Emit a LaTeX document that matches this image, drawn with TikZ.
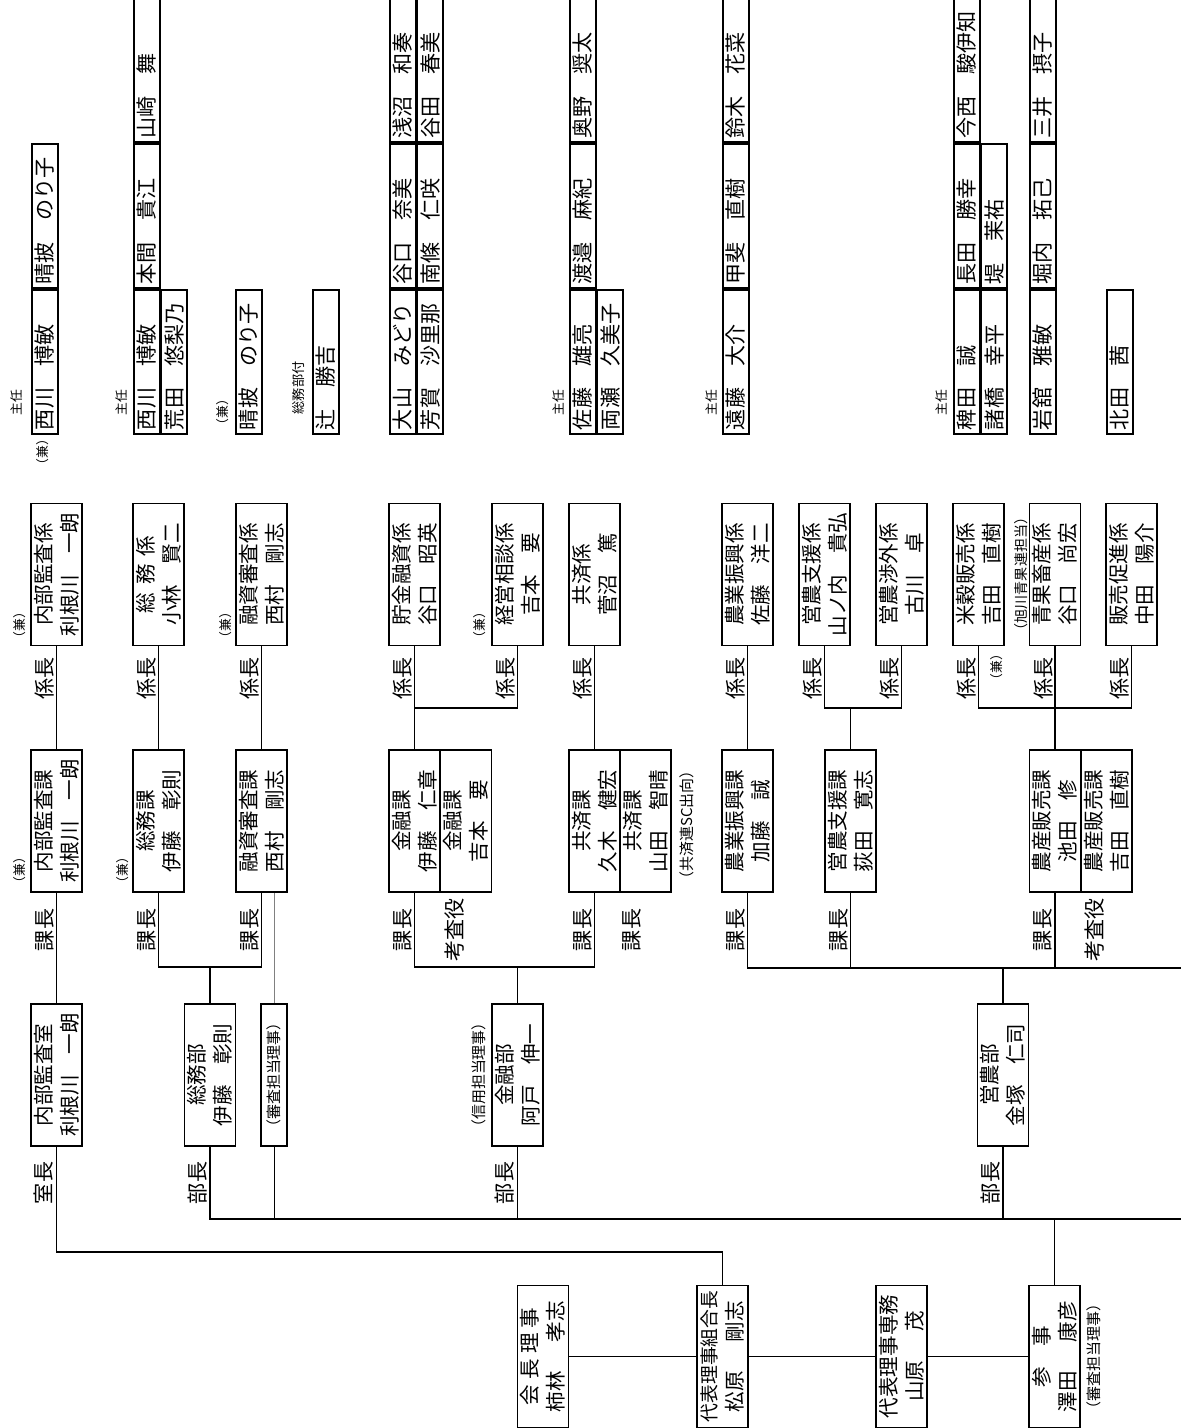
\documentclass[tikz,border=0pt]{standalone}
\usepackage{fontspec}
\setmainfont{Noto Sans CJK JP}
\usetikzlibrary{positioning}

\begin{document}
\begin{tikzpicture}[
  x=0.02cm, y=-0.02cm, rotate=90, transform shape,
  ln/.style={line width=1.1pt},
  thinln/.style={line width=0.4pt},
  box/.style={draw, line width=1.1pt, minimum width=2.84cm, minimum height=1.02cm,
              inner sep=0pt, align=center, font=\fontsize{11.7}{14.8}\selectfont},
  nm/.style={draw, line width=1.1pt, minimum height=0.512cm, text width=2.72cm,
             inner xsep=0.08cm, inner ysep=0pt, align=left, anchor=north west,
             font=\fontsize{12}{14}\selectfont},
  yaku/.style={font=\fontsize{12}{14}\selectfont, inner sep=0pt},
  sm/.style={font=\fontsize{7.3}{8}\selectfont, inner sep=0pt},
  nt/.style={font=\fontsize{8.5}{10}\selectfont, inner sep=0pt}
]
\useasboundingbox (0,0) rectangle (1428,1181);
% ---------------- leaders ----------------
\node[box] (kaicho) at (71.5,543) {会\hspace{.25em}長\hspace{.25em}理\hspace{.25em}事\\柿林\hspace{1.4em}孝志};
\node[box] (kumiaicho) at (71.5,722.5) {{\fontsize{10.7}{14.8}\selectfont 代表理事組合長}\\松原\hspace{1.4em}剛志};
\node[box] (senmu) at (71.5,901.5) {代表理事専務\\山原\hspace{1.4em}茂};
\node[box] (sanji) at (71.5,1054.5) {参\hspace{1em}事\\澤田\hspace{1.4em}康彦};
\node[nt] (sanjiNote) at (71.5,1094) {（審査担当理事）};
% ---------------- bu ----------------
\node[box] (shitsu) at (353,56.5) {内部監査室\\利根川　一朗};
\node[box] (somubu) at (353,210) {総務部\\伊藤　彰則};
\node[box, minimum height=0.52cm, font=\fontsize{8.5}{10}\selectfont] (shinsa) at (353,274) {（審査担当理事）};
\node[box] (kinyubu) at (353,517.5) {金融部\\阿戸　伸一};
\node[box] (einobu) at (353,1003) {営農部\\金塚　仁司};
\node[nt] (shinyoNote) at (353,479) {（信用担当理事）};
% ---------------- ka ----------------
\node[box] (kansaka) at (607,56.5) {内部監査課\\利根川　一朗};
\node[box] (somuka) at (607,158.5) {総務課\\伊藤　彰則};
\node[box] (yushika) at (607,261.5) {融資審査課\\西村　剛志};
\node[box] (kinyuka) at (607,414.5) {金融課\\伊藤　仁章};
\node[box] (kinyuka2) at (607,466) {金融課\\吉本　要};
\node[box] (kyosaika) at (607,594.5) {共済課\\久木　健宏};
\node[box] (kyosaika2) at (607,645.5) {共済課\\山田　智晴};
\node[box] (shinkoka) at (607,747.5) {農業振興課\\加藤　誠};
\node[box] (shienka) at (607,850.5) {営農支援課\\荻田　寛志};
\node[box] (hanbaika) at (607,1055) {農産販売課\\池田　修};
\node[box] (hanbaika2) at (607,1106.5) {農産販売課\\吉田　直樹};
\node[nt] (kyosaiNote) at (603,687) {（共済連SC出向）};
% ---------------- kakari ----------------
\node[box] (kansagakari) at (853.5,56.5) {内部監査係\\利根川　一朗};
\node[box] (somugakari) at (853.5,158.5) {総\hspace{.4em}務\hspace{.4em}係\\小林　賢二};
\node[box] (yushigakari) at (853.5,261.5) {融資審査係\\西村　剛志};
\node[box] (chokingakari) at (853.5,414.5) {貯金融資係\\谷口　昭英};
\node[box] (keieigakari) at (853.5,517.5) {経営相談係\\吉本　要};
\node[box] (kyosaigakari) at (853.5,594.5) {共済係\\菅沼　篤};
\node[box] (shinkogakari) at (853.5,747.5) {農業振興係\\佐藤　洋二};
\node[box] (shiengakari) at (853.5,824.5) {営農支援係\\山ノ内　貴弘};
\node[box] (shogaigakari) at (853.5,901.5) {営農渉外係\\古川　卓};
\node[box] (beikokugakari) at (853.5,978.5) {米穀販売係\\吉田　直樹};
\node[box] (seikagakari) at (853.5,1055) {青果畜産係\\谷口　尚宏};
\node[box] (sokushingakari) at (853.5,1131.5) {販売促進係\\中田　陽介};
\node[nt, font=\fontsize{8}{9}\selectfont] (seikaNote) at (854,1021) {（旭川青果連担当）};
% ---------------- staff ----------------
\node[nm] (a1) at (993,31) {西川　博敏};
\node[nm, right=0pt of a1] (a2) {晴披　のり子};
\node[nm] (b1) at (993,133) {西川　博敏};
\node[nm, right=0pt of b1] (b2) {本間　貴江};
\node[nm, right=0pt of b2] (b3) {山崎　舞};
\node[nm, below=0pt of b1] (b4) {荒田　悠梨乃};
\node[nm] (c1) at (993,235) {晴披　のり子};
\node[nm] (d1) at (993,312) {辻　勝吉};
\node[nm] (e1) at (993,389) {大山　みどり};
\node[nm, right=0pt of e1] (e2) {谷口　奈美};
\node[nm, right=0pt of e2] (e3) {浅沼　和奏};
\node[nm, below=0pt of e1] (e4) {芳賀　沙里那};
\node[nm, below=0pt of e2] (e5) {南條　仁咲};
\node[nm, below=0pt of e3] (e6) {谷田　春美};
\node[nm] (f1) at (993,569) {佐藤　雄亮};
\node[nm, right=0pt of f1] (f2) {渡邉　麻紀};
\node[nm, right=0pt of f2] (f3) {奥野　奨太};
\node[nm, below=0pt of f1] (f4) {両瀬　久美子};
\node[nm] (g1) at (993,722) {遠藤　大介};
\node[nm, right=0pt of g1] (g2) {甲斐　直樹};
\node[nm, right=0pt of g2] (g3) {鈴木　花菜};
\node[nm] (h1) at (993,953) {稗田　誠};
\node[nm, right=0pt of h1] (h2) {長田　勝幸};
\node[nm, right=0pt of h2] (h3) {今西　駿伊知};
\node[nm, below=0pt of h1] (h4) {諸橋　幸平};
\node[nm, below=0pt of h2] (h5) {堤　茉祐};
\node[nm] (i1) at (993,1029) {岩舘　雅敏};
\node[nm, right=0pt of i1] (i2) {堀内　拓己};
\node[nm, right=0pt of i2] (i3) {三井　摂子};
\node[nm] (j1) at (993,1106) {北田　茜};
% ---------------- small labels ----------------
\node[sm] (sh1) at (1025,17) {主任};
\node[sm] (sh2) at (1025,122) {主任};
\node[sm] (sh3) at (1025,559) {主任};
\node[sm] (sh4) at (1025,712) {主任};
\node[sm] (sh5) at (1025,942) {主任};
\node[sm, font=\fontsize{7.5}{8}\selectfont] (fuzoku) at (1040,298) {総務部付};
\node[sm] (k1) at (976,43) {（兼）};
\node[sm] (k2) at (1016,223) {（兼）};
\node[sm] (k3) at (558,20) {（兼）};
\node[sm] (k4) at (558,123) {（兼）};
\node[sm] (k5) at (803,20) {（兼）};
\node[sm] (k6) at (803,226) {（兼）};
\node[sm] (k7) at (803,480) {（兼）};
\node[sm] (k8) at (761,997) {（兼）};
% ---------------- role labels ----------------
\node[yaku] (r1) at (245,44) {室長};
\node[yaku] (r2) at (245,198) {部長};
\node[yaku] (r3) at (245,505) {部長};
\node[yaku] (r4) at (245,991) {部長};
\node[yaku] (r5) at (498,45) {課長};
\node[yaku] (r6) at (498,147) {課長};
\node[yaku] (r7) at (498,250) {課長};
\node[yaku] (r8) at (498,403) {課長};
\node[yaku] (r9) at (498,455) {考査役};
\node[yaku] (r10) at (498,583) {課長};
\node[yaku] (r11) at (498,632) {課長};
\node[yaku] (r12) at (498,736) {課長};
\node[yaku] (r13) at (498,839) {課長};
\node[yaku] (r14) at (498,1043) {課長};
\node[yaku] (r15) at (498,1095) {考査役};
\node[yaku] (r16) at (749.5,45) {係長};
\node[yaku] (r17) at (749.5,147) {係長};
\node[yaku] (r18) at (749.5,250) {係長};
\node[yaku] (r19) at (749.5,403) {係長};
\node[yaku] (r20) at (749.5,506) {係長};
\node[yaku] (r21) at (749.5,583) {係長};
\node[yaku] (r22) at (749.5,736) {係長};
\node[yaku] (r23) at (749.5,813) {係長};
\node[yaku] (r24) at (749.5,890) {係長};
\node[yaku] (r25) at (749.5,967) {係長};
\node[yaku] (r26) at (749.5,1044) {係長};
\node[yaku] (r27) at (749.5,1120) {係長};
% ---------------- lines ----------------
\coordinate (edgeB) at (209,1181);
\coordinate (edgeA) at (460,1181);
\draw[ln] (kaicho.south) -- (kumiaicho.north);
\draw[ln] (kumiaicho.south) -- (senmu.north);
\draw[ln] (senmu.south) -- (sanji.north);
\draw[ln] (kumiaicho.east) -- ++(33,0) |- (shitsu.west);
\draw[thinln] (shinsa.west) -- (shinsa.west -| edgeB);
\draw[thinln, gray] (shinsa.east) -- (shinsa.east -| yushika.west);
\draw[ln] (sanji.east) -| (edgeB);
\draw[ln] (somubu.west) -| (edgeB);
\draw[ln] (kinyubu.west) -| (edgeB);
\draw[ln] (einobu.west) -| (edgeB);
\draw[ln] (shitsu.east) -- (kansaka.west);
\draw[ln] (somubu.east) -- ++(36,0) |- (somuka.west);
\draw[ln] (somubu.east) -- ++(36,0) |- (yushika.west);
\draw[ln] (kinyubu.east) -- ++(36,0) |- (kinyuka.west);
\draw[ln] (kinyubu.east) -- ++(36,0) |- (kyosaika.west);
\draw[ln] (einobu.east) -| (edgeA);
\draw[ln] (shinkoka.west) -| (edgeA);
\draw[ln] (shienka.west) -| (edgeA);
\draw[ln] (hanbaika.west) -| (edgeA);
\draw[ln] (kansaka.east) -- (kansagakari.west);
\draw[ln] (somuka.east) -- (somugakari.west);
\draw[ln] (yushika.east) -- (yushigakari.west);
\draw[ln] (kinyuka.east) -- (chokingakari.west);
\draw[ln] (kinyuka.east) -- ++(41,0) |- (keieigakari.west);
\draw[ln] (kyosaika.east) -- (kyosaigakari.west);
\draw[ln] (shinkoka.east) -- (shinkogakari.west);
\draw[ln] (shienka.east) -- ++(41,0) |- (shiengakari.west);
\draw[ln] (shienka.east) -- ++(41,0) |- (shogaigakari.west);
\draw[ln] (hanbaika.east) -- (seikagakari.west);
\draw[ln] (hanbaika.east) -- ++(41,0) |- (beikokugakari.west);
\draw[ln] (hanbaika.east) -- ++(41,0) |- (sokushingakari.west);
\end{tikzpicture}
\end{document}
